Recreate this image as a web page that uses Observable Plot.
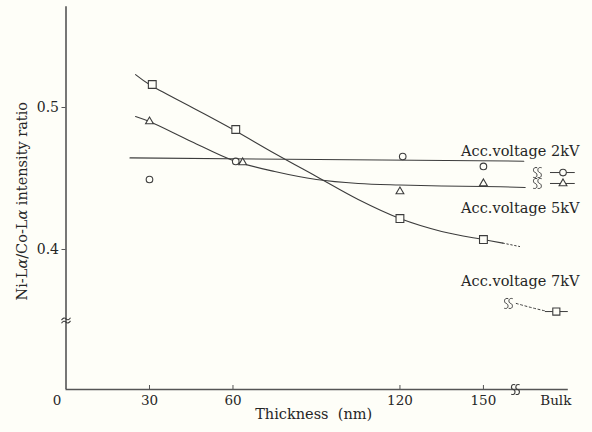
<!DOCTYPE html>
<html><head><meta charset="utf-8">
<script src="https://cdn.jsdelivr.net/npm/d3@7"></script>
<script src="https://cdn.jsdelivr.net/npm/@observablehq/plot@0.6"></script>
<style>
html,body{margin:0;padding:0;background:#fefef8;}
svg{display:block;}
</style></head><body><div id="chart"></div>
<script>
// ---- axis / tick data ----
const xTicks = [30, 60, 120, 150];
const xTickLabels = ["30", "60", "120", "150"];
const yTicks = [0.4, 0.5];
const yTickLabels = ["0.4", "0.5"];
const bulkLabel = "Bulk";
const xMax = 180.5, yMin = 0.3014, yMax = 0.571;
const yBreak = 0.35, xBreak = 161.5;

// ---- measured points (thickness nm, Ni-La/Co-La ratio) ----
const x2kV = [30, 61, 121, 150];
const y2kV = [0.4493, 0.462, 0.4655, 0.4585];
const x5kV = [30, 63.5, 120, 150];
const y5kV = [0.4901, 0.4613, 0.4408, 0.4465];
const x7kV = [31, 61, 120, 150];
const y7kV = [0.5162, 0.4845, 0.4218, 0.407];
// bulk values
const bulkX = 178.6, bulkX7 = 176.2;
const bulk2kV = 0.4542, bulk5kV = 0.4465, bulk7kV = 0.3563;

// ---- hand-drawn fitted curves ----
const fit2kVx = [23, 164.5];
const fit2kVy = [0.4645, 0.4622];
const fit5kVx = [25, 30, 45, 60, 75, 90, 105, 120, 135, 150, 165];
const fit5kVy = [0.4937, 0.4901, 0.4761, 0.4627, 0.4549, 0.4493, 0.4465, 0.4454, 0.4447, 0.4444, 0.4437];
const fit7kVx = [25, 30, 45, 60, 75, 90, 105, 120, 135, 150, 157];
const fit7kVy = [0.5232, 0.5162, 0.5004, 0.4845, 0.4676, 0.4514, 0.4352, 0.4218, 0.4127, 0.4070, 0.4045];
const tail7kVx = [157, 163];
const tail7kVy = [0.4045, 0.4021];
// bulk-row connectors
const bulkSeg2x = [174.1, 183], bulkSeg5x = [174.1, 183];
const bulkDash7x = [161.8, 167, 172.3];
const bulkDash7y = [0.362, 0.3592, 0.3567];
const bulkSeg7x = [172.3, 180.5];
const squigX = 169.4, squig7x = 159, squig7y = 0.362;

const labels = ["Acc.voltage 2kV", "Acc.voltage 5kV", "Acc.voltage 7kV"];
const labelY = [0.469, 0.4289, 0.3775];
const xLabel = "Thickness\u00a0 (nm)";
const yLabel = "Ni-L\u03b1/Co-L\u03b1 intensity ratio";

const pts = (xs, ys) => xs.map((x, i) => ({x, y: ys[i]}));
const ink = "#3c3c3c", txt = "#262626", bg = "#fefef8";
const font = "DejaVu Serif";

// break symbols drawn as custom Plot symbols
const squiggleV = {draw(c) {
  for (const o of [-2.2, 2.2]) {
    c.moveTo(o + 2, -4.8);
    c.bezierCurveTo(o - 2.6, -6.2, o - 2.6, -0.6, o, 0);
    c.bezierCurveTo(o + 2.6, 0.6, o + 2.6, 6.2, o - 2, 4.8);
  }
}};
const squiggleH = {draw(c) {
  for (const o of [-1.6, 1.6]) {
    c.moveTo(-4.5, o + 1.2);
    c.quadraticCurveTo(-2.2, o - 2.2, 0, o);
    c.quadraticCurveTo(2.2, o + 2.2, 4.5, o - 1.2);
  }
}};

const plot = Plot.plot({
  width: 592, height: 432,
  marginLeft: 65.5, marginRight: 24.2, marginTop: 6.2, marginBottom: 43,
  style: {background: bg, fontFamily: font},
  x: {domain: [0, xMax], axis: null},
  y: {domain: [yMin, yMax], axis: null},
  marks: [
    // axes
    Plot.ruleX([0], {y1: yMin, y2: yMax, stroke: "#555", strokeWidth: 1.6}),
    Plot.ruleY([yMin], {x1: 0, x2: xMax, stroke: "#555", strokeWidth: 1.4}),
    Plot.ruleX(xTicks, {y1: yMin, y2: yMin, insetTop: -4, stroke: "#555", strokeWidth: 1}),
    Plot.ruleY(yTicks, {x1: 0, x2: 0, insetLeft: -4, stroke: "#555", strokeWidth: 1}),
    Plot.text(xTicks, {x: d => d, y: yMin, dy: 11, text: (d, i) => xTickLabels[i], fontSize: 13.5, fill: txt}),
    Plot.text([bulkLabel], {x: 176, y: yMin, dy: 11, text: d => d, fontSize: 13.5, fill: txt}),
    Plot.text(["0"], {x: 0, y: yMin, dx: -9, dy: 11, text: d => d, fontSize: 13.5, fill: txt}),
    Plot.text(yTicks, {x: 0, y: d => d, dx: -7, textAnchor: "end", text: (d, i) => yTickLabels[i], fontSize: 14, fill: txt}),
    Plot.text([xLabel], {x: 89, y: yMin, dy: 25, text: d => d, fontSize: 14.5, fill: txt}),
    Plot.text([yLabel], {x: -15.6, y: 0.434, rotate: -90, text: d => d, fontSize: 14.5, fill: txt}),
    // axis breaks
    Plot.dot([yBreak], {x: 0, y: d => d, symbol: squiggleH, r: 4, stroke: ink, strokeWidth: 1.1, fill: "none"}),
    Plot.dot([xBreak], {x: d => d, y: yMin, symbol: squiggleV, r: 4, stroke: ink, strokeWidth: 1.1, fill: "none"}),
    // fitted curves
    Plot.line(pts(fit2kVx, fit2kVy), {x: "x", y: "y", stroke: ink, strokeWidth: 1.1}),
    Plot.line(pts(fit5kVx, fit5kVy), {x: "x", y: "y", stroke: ink, strokeWidth: 1.1, curve: "catmull-rom"}),
    Plot.line(pts(fit7kVx, fit7kVy), {x: "x", y: "y", stroke: ink, strokeWidth: 1.1, curve: "catmull-rom"}),
    Plot.line(pts(tail7kVx, tail7kVy), {x: "x", y: "y", stroke: ink, strokeWidth: 1, strokeDasharray: "1.5,2.5"}),
    // bulk row connectors
    Plot.ruleY([bulk2kV], {x1: bulkSeg2x[0], x2: bulkSeg2x[1], stroke: ink, strokeWidth: 1}),
    Plot.ruleY([bulk5kV], {x1: bulkSeg5x[0], x2: bulkSeg5x[1], stroke: ink, strokeWidth: 1}),
    Plot.line(pts(bulkDash7x, bulkDash7y), {x: "x", y: "y", stroke: ink, strokeWidth: 1, strokeDasharray: "2,2.5", curve: "natural"}),
    Plot.ruleY([bulk7kV], {x1: bulkSeg7x[0], x2: bulkSeg7x[1], stroke: ink, strokeWidth: 1}),
    Plot.dot([bulk2kV, bulk5kV], {x: squigX, y: d => d, symbol: squiggleV, r: 4, stroke: ink, strokeWidth: 1, fill: "none"}),
    Plot.dot([squig7y], {x: squig7x, y: d => d, symbol: squiggleV, r: 4, stroke: ink, strokeWidth: 1, fill: "none"}),
    // markers
    Plot.dot(pts(x2kV, y2kV), {x: "x", y: "y", symbol: "circle", r: 3.3, stroke: ink, strokeWidth: 1.1, fill: bg}),
    Plot.dot([bulk2kV], {x: bulkX, y: d => d, symbol: "circle", r: 3.3, stroke: ink, strokeWidth: 1.1, fill: bg}),
    Plot.dot(pts(x5kV, y5kV), {x: "x", y: "y", symbol: "triangle", r: 2.9, stroke: ink, strokeWidth: 1.1, fill: bg}),
    Plot.dot([bulk5kV], {x: bulkX, y: d => d, symbol: "triangle", r: 2.9, stroke: ink, strokeWidth: 1.1, fill: bg}),
    Plot.dot(pts(x7kV, y7kV), {x: "x", y: "y", symbol: "square", r: 4.4, stroke: ink, strokeWidth: 1.1, fill: bg}),
    Plot.dot([bulk7kV], {x: bulkX7, y: d => d, symbol: "square", r: 4.0, stroke: ink, strokeWidth: 1.1, fill: bg}),
    // series labels
    Plot.text(labels, {x: 184.5, y: (d, i) => labelY[i], textAnchor: "end", text: d => d, fontSize: 14.5, fill: txt})
  ]
});
document.getElementById("chart").appendChild(plot);

// italicise the alpha in the y label
d3.select(plot).selectAll("text").each(function() {
  const el = d3.select(this);
  const s = el.text();
  if (s.includes("\u03b1")) {
    el.text(null);
    s.split(/(\u03b1)/).forEach(part => {
      if (!part) return;
      const t = el.append("tspan").text(part);
      if (part === "\u03b1") t.attr("font-style", "italic");
    });
  }
});
</script></body></html>
